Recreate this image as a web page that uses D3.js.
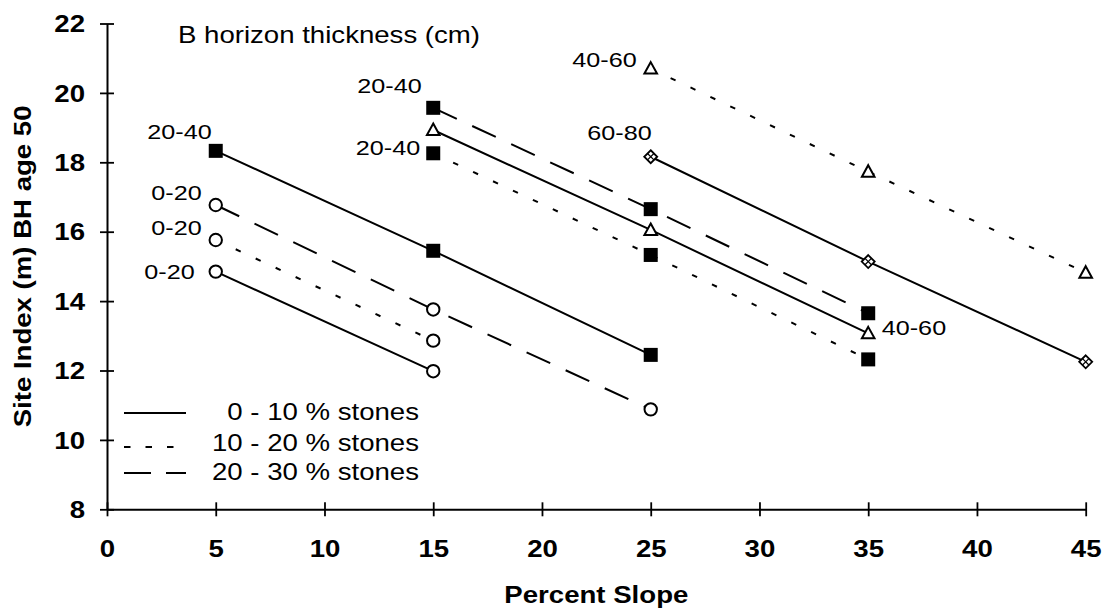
<!DOCTYPE html>
<html>
<head>
<meta charset="utf-8">
<script src="https://cdn.jsdelivr.net/npm/d3@7"></script>
<style>
  html, body { margin: 0; padding: 0; background: #fff; }
  svg { display: block; }
  text { font-family: "Liberation Sans", Arial, Helvetica, sans-serif; fill: #000; }
</style>
</head>
<body>
<svg id="chart" width="1107" height="614"></svg>
<script>
// ---------------- data ----------------
const xTicks = [0, 5, 10, 15, 20, 25, 30, 35, 40, 45];
const yTicks = [8, 10, 12, 14, 16, 18, 20, 22];
const stoneClasses = ["0 - 10 % stones", "10 - 20 % stones", "20 - 30 % stones"];
// each series: stone class index, B-horizon class, slopes, site index values
const seriesStone   = [0, 1, 2, 0, 2, 1, 0, 1, 0];
const seriesHorizon = ["0-20", "0-20", "0-20", "20-40", "20-40", "20-40", "40-60", "40-60", "60-80"];
const seriesSlope = [
  [5, 15],
  [5, 15],
  [5, 15, 25],
  [5, 15, 25],
  [15, 25, 35],
  [15, 25, 35],
  [15, 25, 35],
  [25, 35, 45],
  [25, 35, 45]
];
const seriesSI = [
  [14.85, 11.98],
  [15.76, 12.86],
  [16.77, 13.76, 10.88],
  [18.33, 15.45, 12.45],
  [19.57, 16.65, 13.65],
  [18.26, 15.33, 12.32],
  [18.93, 16.05, 13.07],
  [20.70, 17.73, 14.82],
  [18.16, 15.14, 12.25]
];
// point annotations: text, series index, point index
const labelText   = ["20-40", "0-20", "0-20", "0-20", "20-40", "20-40", "40-60", "60-80", "40-60"];
const labelSeries = [3, 2, 1, 0, 4, 5, 7, 8, 6];
const labelPoint  = [0, 0, 0, 0, 0, 0, 0, 0, 2];
const titleText = "B horizon thickness (cm)";
const xTitle = "Percent Slope";
const yTitle = "Site Index (m) BH age 50";

// ---------------- layout / style ----------------
const SX = 1.2; // horizontal glyph stretch of the reference's typeface
const labelLayout = [ // [anchor, dx, dy]
  ["end", -4, -12], ["end", -14, -5], ["end", -14, -5], ["end", -21, 7],
  ["end", -11.5, -15], ["end", -13, 1.5], ["end", -14, -2], ["end", 1, -17], ["start", 13.5, 1.5]
];
const dashStyles = ["none", "5.5,16.5", "26,17"];
const legendDash = ["none", "6.5,15", "27,15"];
const markerFor = { "0-20": "circle", "20-40": "square", "40-60": "triangle", "60-80": "diamond" };

const svg = d3.select("#chart");
const x = d3.scaleLinear().domain([0, 45]).range([107, 1085.7]);
const y = d3.scaleLinear().domain([8, 22]).range([509.3, 23.5]);

function stext(g, str, tx, ty, size, weight, anchor, extra) {
  return g.append("text")
    .attr("transform", `translate(${tx},${ty})${extra || ""} scale(${SX},1)`)
    .attr("text-anchor", anchor || "start")
    .style("font-size", size + "px")
    .style("font-weight", weight || "normal")
    .text(str);
}

// ---------------- axes ----------------
const gx = svg.append("g").attr("transform", `translate(0,${y(8)})`)
  .call(d3.axisBottom(x).tickValues(xTicks).tickSize(7).tickSizeOuter(0).tickFormat(d3.format("d")));
gx.select(".domain").attr("stroke", "#000").attr("stroke-width", 2);
gx.selectAll(".tick line").attr("y1", -7).attr("stroke-width", 1.8);
gx.selectAll(".tick text")
  .attr("y", null).attr("dy", null)
  .attr("transform", `translate(0,48) scale(${SX},1)`)
  .style("font-size", "23px").style("font-weight", "bold")
  .style("font-family", "'Liberation Sans', Arial, sans-serif").attr("fill", "#000");

const gy = svg.append("g").attr("transform", `translate(${x(0)},0)`)
  .call(d3.axisLeft(y).tickValues(yTicks).tickSize(7).tickSizeOuter(0).tickFormat(d3.format("d")));
gy.select(".domain").attr("stroke", "#000").attr("stroke-width", 2);
gy.selectAll(".tick line").attr("x1", 7).attr("stroke-width", 1.8);
gy.selectAll(".tick text")
  .attr("x", null).attr("dy", "0.36em")
  .attr("transform", `translate(-22,0) scale(${SX},1)`)
  .style("font-size", "23px").style("font-weight", "bold")
  .style("font-family", "'Liberation Sans', Arial, sans-serif").attr("fill", "#000");

// axis titles
stext(svg, xTitle, (x.range()[0] + x.range()[1]) / 2, 603, 23, "bold", "middle");
stext(svg, yTitle, 31, (y.range()[0] + y.range()[1]) / 2, 23, "bold", "middle", " rotate(-90)");
stext(svg, titleText, 178, 43, 23, "normal", "start");

// ---------------- lines ----------------
const line = d3.line().x(d => x(d[0])).y(d => y(d[1]));
const seriesData = seriesSlope.map((s, i) => s.map((v, j) => [v, seriesSI[i][j]]));

svg.append("g").selectAll("path")
  .data(seriesData)
  .join("path")
  .attr("d", line)
  .attr("fill", "none")
  .attr("stroke", "#000")
  .attr("stroke-width", 2)
  .attr("stroke-dasharray", (d, i) => dashStyles[seriesStone[i]]);

// ---------------- markers ----------------
const mg = svg.append("g");
seriesData.forEach((pts, i) => {
  const kind = markerFor[seriesHorizon[i]];
  pts.forEach(p => {
    const g = mg.append("g").attr("transform", `translate(${x(p[0])},${y(p[1])})`);
    if (kind === "circle") {
      g.append("circle").attr("r", 6.2).attr("fill", "#fff").attr("stroke", "#000").attr("stroke-width", 2);
    } else if (kind === "square") {
      g.append("rect").attr("x", -7).attr("y", -7).attr("width", 14).attr("height", 14).attr("fill", "#000");
    } else if (kind === "triangle") {
      g.append("path").attr("d", "M0,-6.5L6.3,5L-6.3,5Z").attr("fill", "#fff").attr("stroke", "#000").attr("stroke-width", 2);
    } else {
      g.append("path").attr("d", "M0,-6.5L6.5,0L0,6.5L-6.5,0Z").attr("fill", "#fff").attr("stroke", "#000").attr("stroke-width", 1.8);
      g.append("path").attr("d", "M-3.2,-3.2L3.2,3.2M3.2,-3.2L-3.2,3.2").attr("stroke", "#000").attr("stroke-width", 1.2);
    }
  });
});

// ---------------- point labels ----------------
const lg = svg.append("g");
labelText.forEach((t, k) => {
  const p = seriesData[labelSeries[k]][labelPoint[k]];
  const [anchor, dx, dy] = labelLayout[k];
  stext(lg, t, x(p[0]) + dx, y(p[1]) + dy, 21, "normal", anchor);
});

// ---------------- legend ----------------
const leg = svg.append("g");
const legY = [413, 447, 473];
const legTextY = [419.5, 450.5, 480];
stoneClasses.forEach((s, i) => {
  leg.append("line")
    .attr("x1", 124).attr("x2", 186).attr("y1", legY[i]).attr("y2", legY[i])
    .attr("stroke", "#000").attr("stroke-width", 2)
    .attr("stroke-dasharray", legendDash[i]);
  stext(leg, s, 419, legTextY[i], 23, "normal", "end");
});
</script>
</body>
</html>
